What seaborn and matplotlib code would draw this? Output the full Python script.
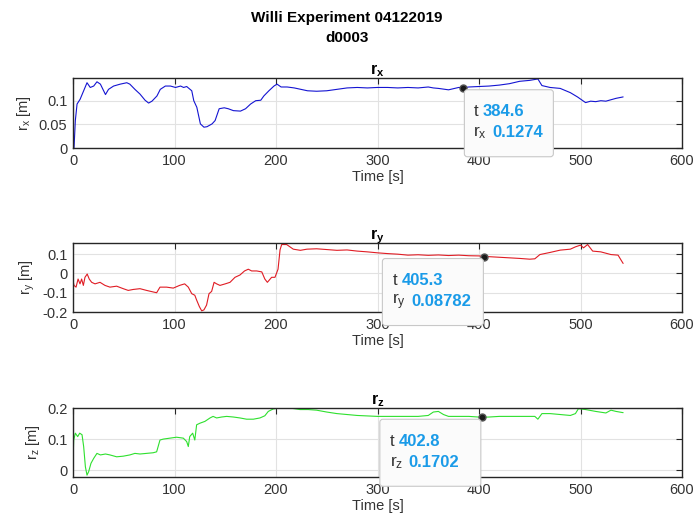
import matplotlib
matplotlib.use("Agg")
import matplotlib.pyplot as plt
import matplotlib.transforms as mtransforms
from matplotlib.patches import FancyBboxPatch
import pandas as pd
import seaborn as sns

# -------------------------
# Data
# -------------------------
t_x = [0, 1, 2.3, 4, 7, 10.5, 13.8, 17, 20.4, 23.6, 27, 32, 35, 40, 46.5, 53, 56,
       61, 66, 71, 74.5, 77.8, 82.7, 86, 91, 96, 101, 106, 109, 112, 117, 119, 122,
       125.5, 129, 132, 137, 140, 144, 149, 153, 158, 165, 170, 175, 180, 185, 188,
       193, 198, 201, 205, 211, 218, 231, 240, 250, 260, 270, 280, 290, 300, 310,
       320, 330, 340, 350, 355, 360, 370, 380, 384.6, 390, 400, 410, 420, 430, 440,
       450, 458, 462, 470, 480, 490, 497, 505, 510, 515, 520, 525, 530, 535, 542]
r_x = [0.013, 0.0, 0.058, 0.093, 0.103, 0.121, 0.138, 0.128, 0.131, 0.140, 0.135,
       0.113, 0.124, 0.131, 0.135, 0.138, 0.135, 0.124, 0.114, 0.101, 0.095, 0.099,
       0.110, 0.124, 0.131, 0.131, 0.128, 0.131, 0.128, 0.130, 0.121, 0.100, 0.086,
       0.051, 0.044, 0.045, 0.051, 0.058, 0.083, 0.085, 0.083, 0.079, 0.078, 0.083,
       0.093, 0.100, 0.101, 0.110, 0.121, 0.131, 0.135, 0.129, 0.129, 0.127, 0.121,
       0.120, 0.121, 0.124, 0.127, 0.128, 0.127, 0.128, 0.128, 0.127, 0.128, 0.127,
       0.129, 0.127, 0.126, 0.123, 0.128, 0.1274, 0.129, 0.130, 0.131, 0.133, 0.136,
       0.141, 0.143, 0.146, 0.132, 0.128, 0.126, 0.117, 0.108, 0.096, 0.099, 0.098,
       0.100, 0.099, 0.102, 0.105, 0.108]

t_y = [0, 1, 3, 5, 6.9, 8.5, 10.2, 11.8, 14, 16, 18.4, 21.7, 26.6, 31.5, 36.4, 43,
       49.5, 54.4, 59.4, 66, 72.5, 79, 82.4, 85.7, 92.2, 98.8, 105, 110, 113.6, 117,
       120, 121.8, 124.5, 126.8, 129, 131.6, 134, 136.6, 139, 141.5, 144.8, 150,
       154.7, 159.6, 164.5, 169, 172.7, 176, 181, 186, 189, 191.5, 195.7, 199, 202,
       204, 205.6, 210.5, 217, 224, 230.5, 240, 250, 260, 270, 280, 290, 300, 310,
       320, 330, 340, 350, 360, 370, 380, 390, 400, 405.3, 410, 420, 430, 440, 450,
       455, 460, 470, 480, 490, 495, 500, 503, 507, 512, 520, 530, 537, 540, 542]
r_y = [-0.037, -0.062, -0.071, -0.029, -0.054, -0.029, -0.062, -0.020, -0.003,
       -0.029, -0.046, -0.054, -0.046, -0.062, -0.071, -0.066, -0.079, -0.088,
       -0.083, -0.079, -0.088, -0.096, -0.100, -0.071, -0.071, -0.076, -0.062,
       -0.054, -0.071, -0.105, -0.113, -0.138, -0.172, -0.194, -0.189, -0.164,
       -0.105, -0.093, -0.046, -0.054, -0.062, -0.054, -0.046, -0.020, -0.008,
       0.013, 0.022, 0.013, 0.013, 0.008, -0.029, -0.046, -0.020, -0.020, 0.022,
       0.123, 0.150, 0.150, 0.126, 0.120, 0.126, 0.128, 0.124, 0.120, 0.122, 0.116,
       0.112, 0.107, 0.103, 0.100, 0.095, 0.097, 0.094, 0.096, 0.093, 0.095, 0.092,
       0.091, 0.0878, 0.087, 0.084, 0.081, 0.078, 0.074, 0.076, 0.098, 0.109, 0.121,
       0.126, 0.138, 0.147, 0.133, 0.150, 0.116, 0.112, 0.098, 0.095, 0.069, 0.052]

t_z = [0, 0.7, 2.3, 4.6, 6.6, 8.9, 10.5, 12.2, 13.8, 15.4, 17.7, 20.4, 23.6, 27, 32,
       36.4, 43, 49.5, 56, 61, 66, 72.5, 79, 82.4, 85.7, 89, 95.5, 102, 108.7, 112,
       113.6, 115, 117.9, 120, 121.8, 125, 130, 135, 138, 141.5, 146.4, 151.4, 158,
       164.5, 171, 177.7, 184.2, 189, 192.4, 197.3, 204, 213.7, 223.6, 231.8, 240,
       250, 260, 270, 280, 300, 320, 340, 350, 355, 360, 365, 370, 380, 390, 402.8,
       410, 420, 440, 455, 458, 462, 470, 480, 490, 495, 498, 505, 515, 525, 530,
       535, 542]
r_z = [0.032, 0.097, 0.119, 0.108, 0.119, 0.114, 0.076, 0.011, -0.016, -0.005,
       0.022, 0.038, 0.054, 0.049, 0.052, 0.049, 0.043, 0.045, 0.049, 0.054, 0.052,
       0.054, 0.056, 0.059, 0.097, 0.100, 0.103, 0.106, 0.103, 0.092, 0.076, 0.108,
       0.119, 0.097, 0.146, 0.151, 0.157, 0.168, 0.173, 0.168, 0.171, 0.173, 0.171,
       0.168, 0.164, 0.164, 0.168, 0.175, 0.189, 0.197, 0.200, 0.200, 0.195, 0.195,
       0.193, 0.187, 0.182, 0.179, 0.176, 0.173, 0.173, 0.173, 0.176, 0.187, 0.189,
       0.179, 0.173, 0.173, 0.173, 0.1702, 0.171, 0.173, 0.173, 0.173, 0.164, 0.182,
       0.182, 0.179, 0.176, 0.182, 0.198, 0.195, 0.189, 0.184, 0.193, 0.189, 0.185]

# data tips: (t, value, text for t, text for value)
tip_x = (384.6, 0.1274, "384.6", "0.1274")
tip_y = (405.3, 0.08782, "405.3", "0.08782")
tip_z = (402.8, 0.1702, "402.8", "0.1702")

# -------------------------
# Style
# -------------------------
sns.set_theme(style="whitegrid")
plt.rcParams["font.family"] = ["Liberation Sans", "DejaVu Sans"]
plt.rcParams["mathtext.fontset"] = "custom"
plt.rcParams["mathtext.rm"] = "Liberation Sans"
plt.rcParams["mathtext.it"] = "Liberation Sans"
plt.rcParams["mathtext.bf"] = "Liberation Sans:bold"
plt.rcParams["axes.unicode_minus"] = False

fig = plt.figure(figsize=(6.94, 5.25), dpi=100)
fig.patch.set_facecolor("white")

left, width = 73 / 694, 609 / 694
ax_rects = [
    [left, 1 - 148 / 525, width, 70 / 525],
    [left, 1 - 312 / 525, width, 69 / 525],
    [left, 1 - 477 / 525, width, 69 / 525],
]

panels = [
    (t_x, r_x, "#1414d2", "x", (0, 0.148), [0, 0.05, 0.1], ["0", "0.05", "0.1"], tip_x, "right"),
    (t_y, r_y, "#e01c24", "y", (-0.2, 0.158), [-0.2, -0.1, 0, 0.1], ["-0.2", "-0.1", "0", "0.1"], tip_y, "left"),
    (t_z, r_z, "#2ee02e", "z", (-0.022, 0.2), [0, 0.1, 0.2], ["0", "0.1", "0.2"], tip_z, "left"),
]

tip_blue = "#1a9be8"

for rect, (tt, vv, color, comp, ylim, yt, ytl, tip, side) in zip(ax_rects, panels):
    ax = fig.add_axes(rect)
    df = pd.DataFrame({"Time": tt, "r": vv})
    sns.lineplot(data=df, x="Time", y="r", color=color, linewidth=0.8,
                 estimator=None, ax=ax)

    ax.set_xlim(0, 600)
    ax.set_ylim(*ylim)
    ax.set_xticks(range(0, 601, 100))
    ax.set_yticks(yt)
    ax.set_yticklabels(ytl)
    ax.set_facecolor("white")
    ax.grid(True, color="#e2e2e2", linewidth=0.8)
    for s in ax.spines.values():
        s.set_color("#262626")
        s.set_linewidth(1.0)
    ax.tick_params(direction="in", length=4, width=0.8, top=True, right=True,
                   labelsize=10.5, colors="#262626", pad=4)
    ax.tick_params(axis="both", labelcolor="#333333")

    ax.set_xlabel("Time [s]", fontsize=10.5, color="#333333", labelpad=2)
    ax.set_ylabel(r"$\mathregular{r_%s}$ [m]" % comp, fontsize=10.5,
                  color="#333333", labelpad=4)
    ax.set_title(r"$\mathbf{r_%s}$" % comp, fontsize=11.5, color="black", pad=3)

    # data tip marker
    t0, v0, t_txt, v_txt = tip
    ax.plot([t0], [v0], marker="o", markersize=5, color="#1a1a1a",
            markeredgecolor="#555555", zorder=6, clip_on=False)

    # box in pixel offsets from the data point
    trans = fig.dpi_scale_trans + mtransforms.ScaledTranslation(t0, v0, ax.transData)
    if side == "right":
        bx0, bx1 = 0.01, 0.90
        tx = 0.10
    else:
        bx0, bx1 = -1.02, -0.01
        tx = -0.92
    by0, by1 = -0.69, -0.02
    box = FancyBboxPatch((bx0, by0), bx1 - bx0, by1 - by0,
                         boxstyle="round,pad=0,rounding_size=0.03",
                         transform=trans, facecolor="#fbfbfb",
                         edgecolor="#c8c8c8", linewidth=0.8, zorder=7,
                         clip_on=False)
    ax.add_patch(box)
    ax.text(tx, -0.24, "t", transform=trans, fontsize=12, color="#333333",
            va="center", ha="left", zorder=8)
    ax.text(tx + 0.09, -0.24, t_txt, transform=trans, fontsize=12,
            color=tip_blue, fontweight="bold", va="center", ha="left", zorder=8)
    ax.text(tx, -0.45, r"$\mathregular{r_%s}$" % comp, transform=trans,
            fontsize=12.5, color="#333333", va="center", ha="left", zorder=8)
    ax.text(tx + 0.19, -0.45, v_txt, transform=trans, fontsize=12,
            color=tip_blue, fontweight="bold", va="center", ha="left", zorder=8)

fig.text(0.5, 1 - 18 / 525, "Willi Experiment 04122019", ha="center",
         va="center", fontsize=11, fontweight="bold", color="black")
fig.text(0.5, 1 - 38 / 525, "d0003", ha="center", va="center", fontsize=11,
         fontweight="bold", color="black")

plt.savefig("out.png", dpi=100)
plt.close()
